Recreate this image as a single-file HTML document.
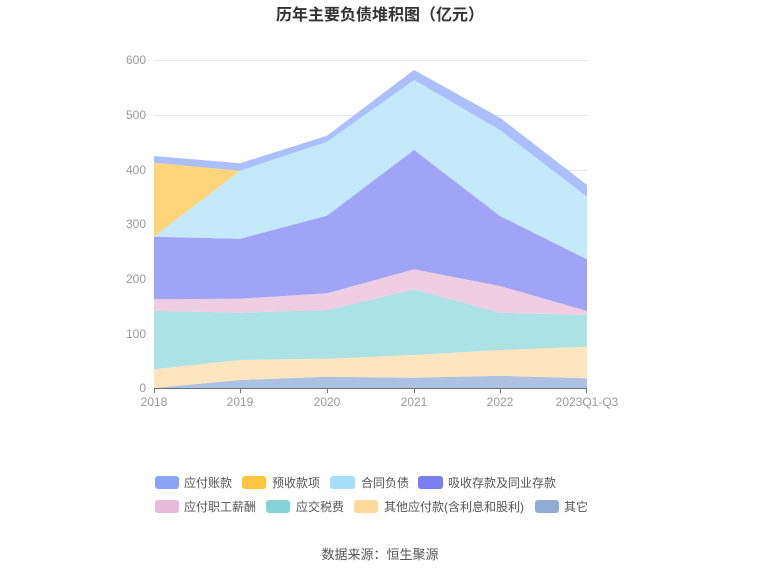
<!DOCTYPE html>
<html><head><meta charset="utf-8"><style>
body{margin:0;background:#fff;}
svg{display:block;font-family:"Liberation Sans","Noto Sans CJK SC",sans-serif;}
</style></head><body>
<svg width="760" height="575" viewBox="0 0 760 575">
<text x="380" y="20" text-anchor="middle" font-size="16" font-weight="bold" fill="#333">历年主要负债堆积图（亿元）</text>
<g stroke="#e0e6f1" stroke-width="1">
<line x1="154" x2="587" y1="60.5" y2="60.5"/>
<line x1="154" x2="587" y1="115.5" y2="115.5"/>
<line x1="154" x2="587" y1="170.5" y2="170.5"/>
<line x1="154" x2="587" y1="224.5" y2="224.5"/>
<line x1="154" x2="587" y1="279.5" y2="279.5"/>
<line x1="154" x2="587" y1="334.5" y2="334.5"/>
</g>
<g font-size="12" fill="#999" text-anchor="end">
<text x="146" y="64">600</text><text x="146" y="119">500</text><text x="146" y="174">400</text>
<text x="146" y="228">300</text><text x="146" y="283">200</text><text x="146" y="338">100</text><text x="146" y="392">0</text>
</g>
<!-- layers -->
<polygon fill="#adc2e2" points="154,388 240,380 327,376.7 414,377.7 500,375.7 587,378.3 587,388 154,388"/>
<polygon fill="#fde6bf" points="154,369.3 240,360 327,358.7 414,355 500,350 587,346.7 587,378.3 500,375.7 414,377.7 327,376.7 240,380 154,388"/>
<polygon fill="#ace2e3" points="154,310.7 240,312.7 327,310 414,289.3 500,312.7 587,315 587,346.7 500,350 414,355 327,358.7 240,360 154,369.3"/>
<polygon fill="#efcde2" points="154,299.3 240,298.7 327,293.3 414,269.3 500,286 587,311 587,315 500,312.7 414,289.3 327,310 240,312.7 154,310.7"/>
<polygon fill="#a0a4f7" points="154,236.7 240,238.7 327,215.7 414,150 500,216 587,259.3 587,311 500,286 414,269.3 327,293.3 240,298.7 154,299.3"/>
<polygon fill="#c4e9fb" points="154,236.7 240,170.7 327,141.7 414,80 500,130 587,196.7 587,259.3 500,216 414,150 327,215.7 240,238.7 154,236.7"/>
<polygon fill="#fed57b" points="154,162.7 240,170.7 154,236.7"/>
<polygon fill="#aabffc" points="154,156 240,163.3 327,135.7 414,70 500,117.7 587,185 587,196.7 500,130 414,80 327,141.7 240,170.7 154,162.7"/>
<line x1="154" x2="587" y1="388.5" y2="388.5" stroke="#6e7079"/>
<g stroke="#6e7079"><line x1="154.5" x2="154.5" y1="388" y2="393"/><line x1="240.5" x2="240.5" y1="388" y2="393"/><line x1="327.5" x2="327.5" y1="388" y2="393"/><line x1="414.5" x2="414.5" y1="388" y2="393"/><line x1="500.5" x2="500.5" y1="388" y2="393"/><line x1="586.5" x2="586.5" y1="388" y2="393"/></g>
<g font-size="12" fill="#999" text-anchor="middle">
<text x="154" y="406">2018</text><text x="240" y="406">2019</text><text x="327" y="406">2020</text>
<text x="414" y="406">2021</text><text x="500" y="406">2022</text><text x="587" y="406">2023Q1-Q3</text>
</g>
<g font-size="12" fill="#555">
<rect x="155" y="476" width="24" height="13" rx="3" fill="#8aa5f8"/><text x="184" y="487">应付账款</text>
<rect x="242" y="476" width="24" height="13" rx="3" fill="#fcc43f"/><text x="272" y="487">预收款项</text>
<rect x="330" y="476" width="25" height="13" rx="3" fill="#a5def8"/><text x="361" y="487">合同负债</text>
<rect x="418" y="476" width="25" height="13" rx="3" fill="#7b7ef0"/><text x="448" y="487">吸收存款及同业存款</text>
<rect x="155" y="500" width="24" height="13" rx="3" fill="#e8b9d9"/><text x="184" y="511">应付职工薪酬</text>
<rect x="266" y="500" width="24" height="13" rx="3" fill="#84d4d6"/><text x="296" y="511">应交税费</text>
<rect x="354" y="500" width="24" height="13" rx="3" fill="#fdd99a"/><text x="384" y="511">其他应付款(含利息和股利)</text>
<rect x="535" y="500" width="24" height="13" rx="3" fill="#8fabd6"/><text x="564" y="511">其它</text>
</g>
<text x="380" y="559" text-anchor="middle" font-size="13" fill="#555">数据来源：恒生聚源</text>
</svg>
</body></html>
